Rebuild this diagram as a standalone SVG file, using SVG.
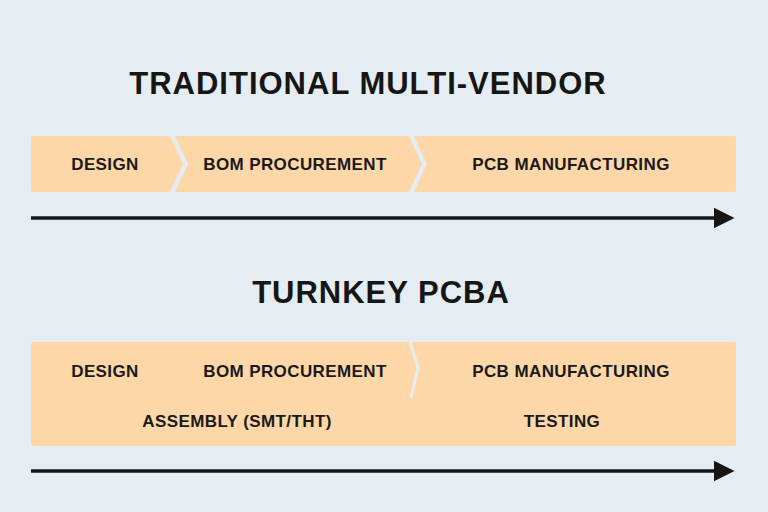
<svg xmlns="http://www.w3.org/2000/svg" width="768" height="512" viewBox="0 0 768 512">
<defs><style>
.b{fill:#fdd7a8}
.t{font-family:"Liberation Sans",Arial,sans-serif;font-size:17px;fill:#1a1a1a;text-anchor:middle;font-weight:bold;letter-spacing:0.4px}
.h{font-family:"Liberation Sans",Arial,sans-serif;font-size:31px;fill:#161616;text-anchor:middle;font-weight:bold;letter-spacing:1px}
.ln{stroke:#161616;stroke-width:3.5}
</style>
<marker id="ah" markerWidth="6" markerHeight="6" refX="5" refY="3" orient="auto" markerUnits="strokeWidth"><path d="M0,0L6,3L0,6z" fill="#161616"/></marker>
</defs>
<rect width="768" height="512" fill="#e5edf2"/>
<text class="h" x="368" y="94">TRADITIONAL MULTI-VENDOR</text>
<g id="design1"><path class="b" d="M33,136H170L183,164L170,192H33Q31,192 31,190V138Q31,136 33,136z"/><text class="t" x="105" y="170">DESIGN</text></g>
<g id="bom1"><path class="b" d="M175,136H409L422,164L409,192H175L188,164z"/><text class="t" x="295" y="170">BOM PROCUREMENT</text></g>
<g id="pcb1"><path class="b" d="M414,136H734Q736,136 736,138V190Q736,192 734,192H414L427,164z"/><text class="t" x="571" y="170">PCB MANUFACTURING</text></g>
<text class="h" x="381" y="303">TURNKEY PCBA</text>
<g id="turnkey"><rect class="b" x="31" y="342" width="705" height="104" rx="2"/>
<path d="M410,342L418,368L411,398" fill="none" stroke="#e5edf2" stroke-width="3"/>
<text class="t" x="105" y="377">DESIGN</text>
<text class="t" x="295" y="377">BOM PROCUREMENT</text>
<text class="t" x="571" y="377">PCB MANUFACTURING</text>
<text class="t" x="237" y="427">ASSEMBLY (SMT/THT)</text>
<text class="t" x="562" y="427">TESTING</text></g>
<g id="connectors">
<line class="ln" x1="31" y1="218" x2="731" y2="218" marker-end="url(#ah)"/>
<line class="ln" x1="31" y1="471" x2="731" y2="471" marker-end="url(#ah)"/>
</g>
</svg>
